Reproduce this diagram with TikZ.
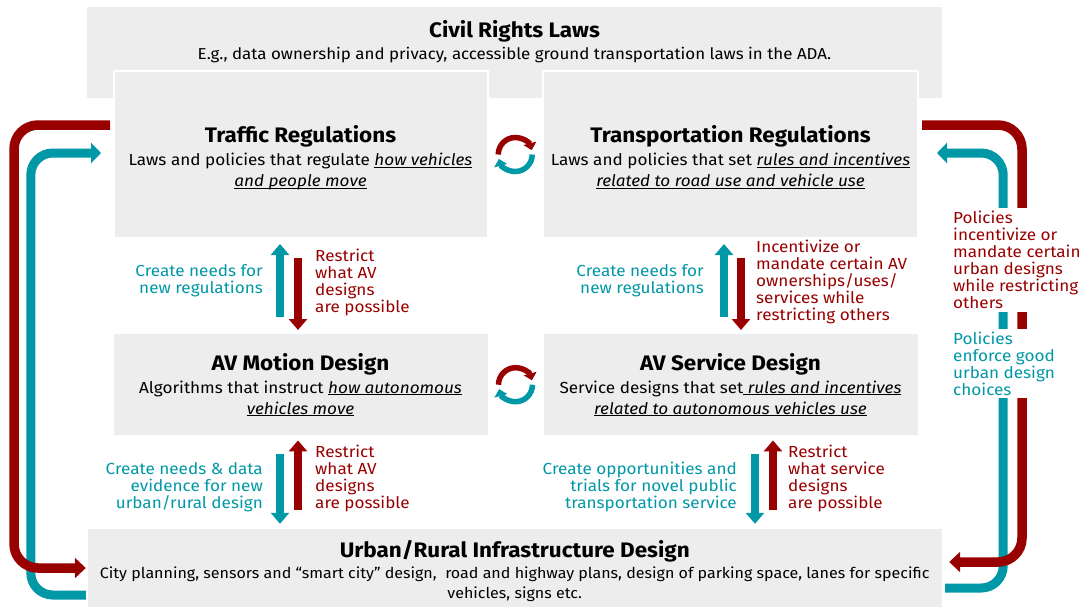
\documentclass[tikz,border=0pt]{standalone}
\usepackage{fontspec}
\setmainfont{Fira Sans}[FakeStretch=1.07]
\usepackage{tikz}
\usetikzlibrary{arrows.meta,calc,positioning}
\definecolor{avred}{RGB}{153,0,0}
\definecolor{avteal}{RGB}{0,151,167}
\definecolor{avgray}{RGB}{237,237,237}
\tikzstyle{gb}=[rectangle,fill=avgray,align=center,inner sep=0pt,font=\fontsize{16}{21}\selectfont]
\tikzstyle{wb}=[gb,draw=white,line width=2pt]
\tikzstyle{tlVecArrow}=[avteal,line width=8pt,-{Triangle[width=18pt,length=11pt]}]
\tikzstyle{rdVecArrow}=[avred,line width=8pt,-{Triangle[width=18pt,length=11pt]}]
\tikzstyle{tlLoop}=[avteal,line width=9pt,rounded corners=22pt,-{Triangle[width=20pt,length=10pt]}]
\tikzstyle{rdLoop}=[avred,line width=9.5pt,rounded corners=24pt,-{Triangle[width=20pt,length=11pt]}]
\tikzstyle{tlCyc}=[avteal,line width=5.5pt,-{Triangle[width=13pt,length=7pt]}]
\tikzstyle{rdCyc}=[avred,line width=5.5pt,-{Triangle[width=13pt,length=7pt]}]
\tikzset{
	tlTxt/.style={text=avteal,align=right,inner sep=0pt,font=\fontsize{16}{17}\selectfont},
	rdTxt/.style={text=avred,align=left,inner sep=0pt,font=\fontsize{16}{17}\selectfont}
}
\newcommand{\ulit}[1]{\underline{\itshape\smash{#1}}}
\newcommand{\hdtxt}[1]{{\bfseries\fontsize{21}{22}\selectfont #1}}
\newcommand{\tstrut}{\rule{0pt}{22.5pt}}

\begin{document}
\begin{tikzpicture}[x=1pt,y=-1pt]
    \useasboundingbox (0,0) rectangle (1087,606);
    \node (law) [gb,minimum width=855pt,minimum height=91pt] at (514.5,52.5) {};
    \node (lawt) [below=13pt of law.north,align=center,inner sep=0pt,font=\fontsize{15.8}{22}\selectfont] {\hdtxt{Civil Rights Laws}\\ E.g., data ownership and privacy, accessible ground transportation laws in the ADA.};
    \node (trf) [wb,minimum width=374pt,minimum height=167pt] at (300.5,154.5) {\hdtxt{\tstrut Traffic Regulations}\\[2pt] Laws and policies that regulate \ulit{how vehicles}\\ \ulit{and people move}};
    \node (trp) [wb,minimum width=375pt,minimum height=167pt,right=53.5pt of trf] {\hdtxt{\tstrut Transportation Regulations}\\[2pt] Laws and policies that set \ulit{rules and incentives}\\ \ulit{related to road use and vehicle use}};
    \node (avm) [gb,minimum width=374pt,minimum height=101pt,below=95pt of trf] {\hdtxt{AV Motion Design}\\[2pt] Algorithms that instruct \ulit{how autonomous}\\ \ulit{vehicles move}};
    \node (avs) [gb,minimum width=374pt,minimum height=101pt,below=95pt of trp] {\hdtxt{AV Service Design}\\[2pt] Service designs that set\ulit{ rules and incentives}\\ \ulit{related to autonomous vehicles use}};
    \node (urb) [gb,minimum width=854.5pt,minimum height=84pt,font=\fontsize{15}{20}\selectfont] at (514.75,571) {\hdtxt{Urban/Rural Infrastructure Design}\\[1pt] City planning, sensors and “smart city” design,~ road and highway plans, design of parking space, lanes for specific\\ vehicles, signs etc.};

    \draw[tlLoop] ($(urb.west)+(-1.5,24)$) -- ++(-55,0) |- ($(trf.west)+(-11.5,-1.5)$);
    \draw[tlLoop] ($(urb.east)+(3,17)$) -- ++(58,0) |- ($(trp.east)+(18,-1.5)$);
    \draw[rdLoop] ($(trf.west)+(-2.5,-29.5)$) -- ++(-96,0) |- ($(urb.west)+(-1.5,-3)$);
    \draw[rdLoop] ($(trp.east)+(3,-29.5)$) -- ++(100,0) |- ($(urb.east)+(7,-9)$);

    \draw[tlVecArrow] ($(avm.north)+(-20.5,-17)$) -- ($(trf.south)+(-20.5,5)$);
    \draw[rdVecArrow] ($(trf.south)+(-2.5,19)$) -- ($(avm.north)+(-2.5,-4)$);
    \draw[tlVecArrow] ($(avs.north)+(-6.5,-17)$) -- ($(trp.south)+(-6.5,5)$);
    \draw[rdVecArrow] ($(trp.south)+(10.5,19)$) -- ($(avs.north)+(10.5,-4)$);
    \draw[tlVecArrow] ($(avm.south)+(-20.5,19)$) -- ($(avm.south |- urb.north)+(-20.5,-5)$);
    \draw[rdVecArrow] ($(avm.south |- urb.north)+(-2.5,-19)$) -- ($(avm.south)+(-2.5,5)$);
    \draw[tlVecArrow] ($(avs.south)+(24.5,19)$) -- ($(avs.south |- urb.north)+(24.5,-5)$);
    \draw[rdVecArrow] ($(avs.south |- urb.north)+(42.5,-19)$) -- ($(avs.south)+(42.5,5)$);

    \coordinate (cyc1) at ($(trf.east)!0.5!(trp.west)$);
    \coordinate (cyc2) at ($(avm.east)!0.5!(avs.west)$);
    \draw[rdCyc] ($(cyc1)+(-17,0)$) arc[start angle=-180,end angle=-15,radius=17];
    \draw[tlCyc] ($(cyc1)+(17,0)$) arc[start angle=0,end angle=165,radius=17];
    \draw[rdCyc] ($(cyc2)+(-17,0)$) arc[start angle=-180,end angle=-15,radius=17];
    \draw[tlCyc] ($(cyc2)+(17,0)$) arc[start angle=0,end angle=165,radius=17];

    \node (nd1) [tlTxt,anchor=east] at (263,280.5) {Create needs for\\new regulations};
    \node (rs1) [rdTxt,anchor=west] at (315,282) {Restrict\\what AV\\designs\\are possible};
    \node (nd2) [tlTxt,anchor=east] at (704,280.5) {Create needs for\\new regulations};
    \node (rs2) [rdTxt,anchor=west] at (756,282) {Incentivize or\\mandate certain AV\\ownerships/uses/\\services while\\restricting others};
    \node (nd3) [tlTxt,anchor=east] at (263,487) {Create needs \& data\\evidence for new\\urban/rural design};
    \node (rs3) [rdTxt,anchor=west] at (315,478) {Restrict\\what AV\\designs\\are possible};
    \node (nd4) [tlTxt,anchor=east] at (737,487) {Create opportunities and\\trials for novel public\\transportation service};
    \node (rs4) [rdTxt,anchor=west] at (788,478) {Restrict\\what service\\designs\\are possible};
    \node (pol1) [rdTxt,anchor=west,fill=white,inner sep=3pt] at (950,260) {Policies\\incentivize or\\mandate certain\\urban designs\\while restricting\\others};
    \node (pol2) [tlTxt,align=left,anchor=west,fill=white,inner sep=3pt] at (950,363.5) {Policies\\enforce good\\urban design\\choices};
  \end{tikzpicture}
\end{document}
